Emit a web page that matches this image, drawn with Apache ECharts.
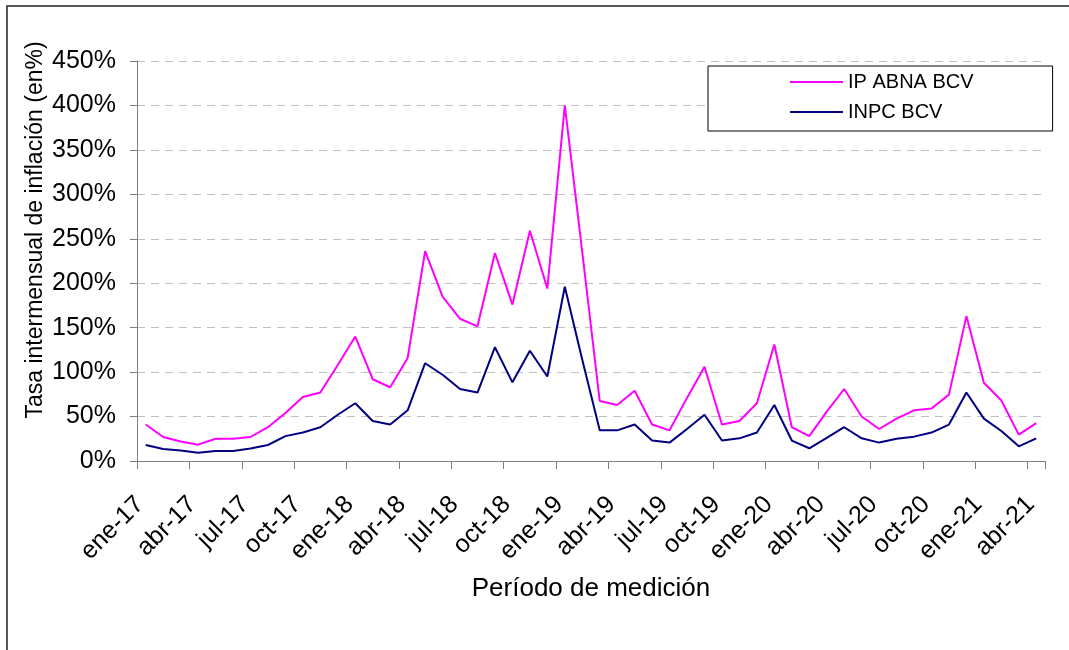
<!DOCTYPE html>
<html>
<head>
<meta charset="utf-8">
<script src="https://cdn.jsdelivr.net/npm/echarts@6/dist/echarts.min.js"></script>
<style>
  html, body { margin: 0; padding: 0; background: #fff; }
  #chart { width: 1069px; height: 650px; }
</style>
</head>
<body>
<div id="chart"></div>
<script>
// meses (ene-17 .. abr-21)
var categorias = [
  'ene-17','feb-17','mar-17','abr-17','may-17','jun-17','jul-17','ago-17','sep-17','oct-17','nov-17','dic-17',
  'ene-18','feb-18','mar-18','abr-18','may-18','jun-18','jul-18','ago-18','sep-18','oct-18','nov-18','dic-18',
  'ene-19','feb-19','mar-19','abr-19','may-19','jun-19','jul-19','ago-19','sep-19','oct-19','nov-19','dic-19',
  'ene-20','feb-20','mar-20','abr-20','may-20','jun-20','jul-20','ago-20','sep-20','oct-20','nov-20','dic-20',
  'ene-21','feb-21','mar-21','abr-21'
];

// tasa intermensual (%)
var ipAbna = [41, 27, 22, 18.4, 25, 25, 27, 38, 54, 72, 77, 108,
  140, 92, 83, 116, 236, 185, 160, 151.5, 234, 176, 259, 194,
  400, 235, 67.5, 63, 79, 41, 34.5, 71, 106, 41, 45, 65,
  131, 38, 28, 55.5, 81, 50, 36, 47.7, 57, 59, 74.7, 163,
  88, 68, 29.7, 42.7];

var inpc = [18, 13.5, 11.7, 9.4, 11.3, 11.3, 14, 18, 28, 32, 38, 52,
  65, 45, 41, 57, 110, 97, 81, 77, 128, 88.5, 124, 95,
  196, 114, 34.5, 34.5, 41, 23, 20.7, 36, 52, 23, 25.5, 32,
  63, 23, 14.3, 26, 38, 25.5, 20.7, 25, 27.4, 32, 41, 77,
  47.7, 33.8, 16.5, 25.5];

var yMax = 450;
var yStep = 50;

var fuente = '"Liberation Sans", Arial, sans-serif';

var chart = echarts.init(document.getElementById('chart'));
var option = {
  animation: false,
  backgroundColor: '#fff',
  textStyle: { fontFamily: fuente, color: '#000' },
  grid: { left: 137, right: 24, top: 61, bottom: 189 },
  legend: {
    orient: 'vertical',
    left: 708,
    top: 66,
    padding: [6, 79, 9, 82],
    borderColor: '#000',
    borderWidth: 1,
    backgroundColor: '#fff',
    itemWidth: 53,
    itemHeight: 2,
    itemGap: 10,
    icon: 'rect',
    textStyle: { fontFamily: fuente, fontSize: 20, color: '#000', lineHeight: 20 },
    data: ['IP ABNA BCV', 'INPC BCV']
  },
  xAxis: {
    type: 'category',
    data: categorias,
    boundaryGap: true,
    name: 'Período de medición',
    nameLocation: 'middle',
    nameGap: 115,
    nameTextStyle: { fontFamily: fuente, fontSize: 26, color: '#000' },
    axisLine: { lineStyle: { color: '#808080', width: 1 } },
    axisTick: { show: true, interval: 2, length: 8, lineStyle: { color: '#808080' } },
    axisLabel: {
      interval: 2,
      rotate: 45,
      margin: 34,
      padding: [0, 8, 0, 0],
      fontFamily: fuente,
      fontSize: 25,
      color: '#000'
    },
    splitLine: { show: false }
  },
  yAxis: {
    type: 'value',
    min: 0,
    max: yMax,
    interval: yStep,
    axisLine: { show: true, lineStyle: { color: '#808080', width: 1 } },
    axisTick: { show: true, length: 7, lineStyle: { color: '#808080' } },
    axisLabel: {
      formatter: '{value}%',
      margin: 21,
      fontFamily: fuente,
      fontSize: 25,
      color: '#000'
    },
    splitLine: { show: true, lineStyle: { color: '#c0c0c0', type: [8, 6], width: 1 } }
  },
  graphic: [
    {
      type: 'rect',
      shape: { x: 7, y: 6, width: 1200, height: 800 },
      style: { fill: 'none', stroke: '#222', lineWidth: 1.5 },
      silent: true,
      z: -1
    },
    {
      type: 'text',
      x: 36,
      y: 230,
      rotation: Math.PI / 2,
      style: {
        text: 'Tasa intermensual de inflación (en%)',
        font: '23px ' + fuente,
        fill: '#000',
        align: 'center',
        verticalAlign: 'middle'
      }
    }
  ],
  series: [
    {
      name: 'IP ABNA BCV',
      type: 'line',
      data: ipAbna,
      symbol: 'none',
      lineStyle: { color: '#ff00ff', width: 2 },
      itemStyle: { color: '#ff00ff' }
    },
    {
      name: 'INPC BCV',
      type: 'line',
      data: inpc,
      symbol: 'none',
      lineStyle: { color: '#000080', width: 2 },
      itemStyle: { color: '#000080' }
    }
  ]
};
chart.setOption(option);
</script>
</body>
</html>
